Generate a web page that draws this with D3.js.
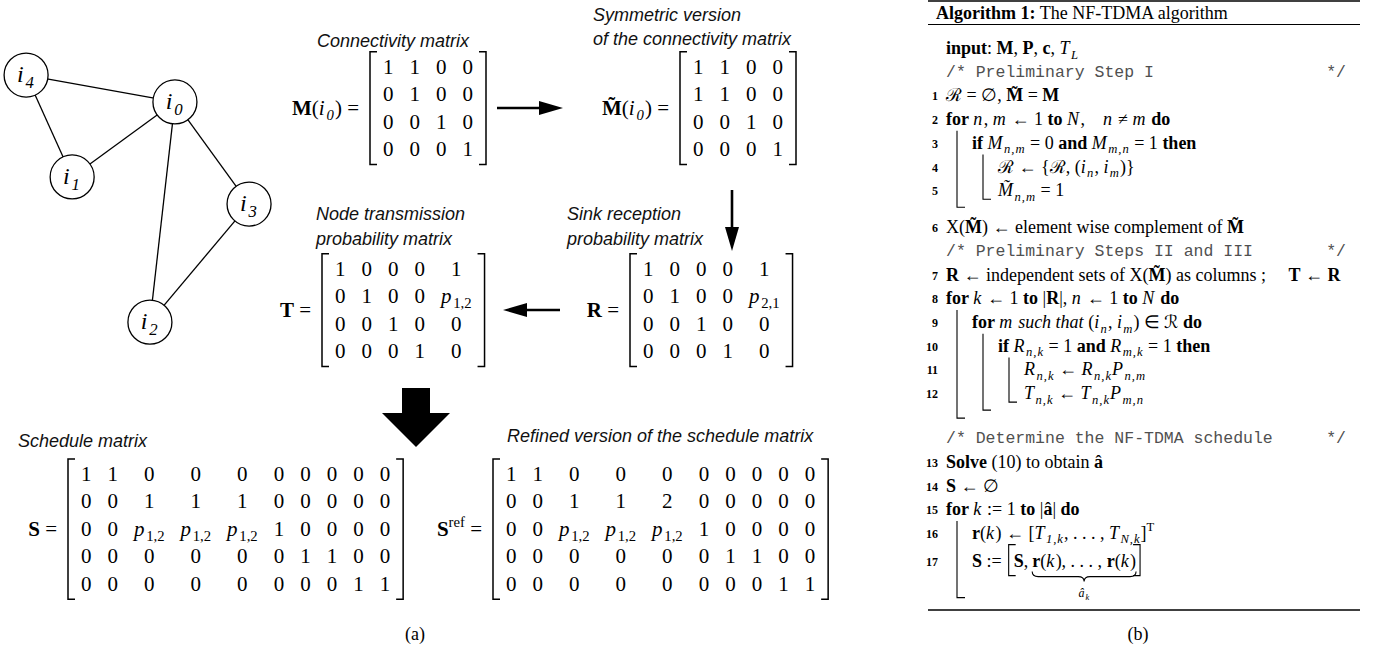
<!DOCTYPE html>
<html lang="en">
<head>
<meta charset="UTF-8">
<title>NF-TDMA schedule construction</title>
<script src="https://d3js.org/d3.v7.min.js"></script>
<style>
  body { margin: 0; background: #fff; }
  svg { display: block; }
  .lbl { font-family: "Liberation Sans", Arial, sans-serif; font-style: italic; font-size: 18px; fill: #111; }
  .math { font-family: "Liberation Serif", "Times New Roman", serif; fill: #000; }
  .mono { font-family: "Liberation Mono", monospace; font-size: 16.5px; fill: #505050; }
</style>
</head>
<body>
<svg width="1380" height="656"></svg>
<script>
// ---- graph (positions in graph units 0..10)
const nodes = [
  {id: "0", gx: 5.67, gy: 2.03},
  {id: "1", gx: 2.30, gy: 4.49},
  {id: "2", gx: 4.85, gy: 9.25},
  {id: "3", gx: 8.10, gy: 5.38},
  {id: "4", gx: 0.79, gy: 1.15}
];
const edges = [["4", "0"], ["4", "1"], ["1", "0"], ["0", "2"], ["0", "3"], ["3", "2"]];

// ---- matrices
const matM = [["1","1","0","0"],["0","1","0","0"],["0","0","1","0"],["0","0","0","1"]];
const matMt = [["1","1","0","0"],["1","1","0","0"],["0","0","1","0"],["0","0","0","1"]];
const matT = [["1","0","0","0","1"],["0","1","0","0","p12"],["0","0","1","0","0"],["0","0","0","1","0"]];
const matR = [["1","0","0","0","1"],["0","1","0","0","p21"],["0","0","1","0","0"],["0","0","0","1","0"]];
const matS = [
  ["1","1","0","0","0","0","0","0","0","0"],
  ["0","0","1","1","1","0","0","0","0","0"],
  ["0","0","p12","p12","p12","1","0","0","0","0"],
  ["0","0","0","0","0","0","1","1","0","0"],
  ["0","0","0","0","0","0","0","0","1","1"]
];
const matSref = [
  ["1","1","0","0","0","0","0","0","0","0"],
  ["0","0","1","1","2","0","0","0","0","0"],
  ["0","0","p12","p12","p12","1","0","0","0","0"],
  ["0","0","0","0","0","0","1","1","0","0"],
  ["0","0","0","0","0","0","0","0","1","1"]
];

// ---- algorithm text
const MT = "M\u0303", SR = "\u211B";
const algTitle = [["Algorithm 1:", "b"], [" The NF-TDMA algorithm", ""]];
const algLines = [
  {num: "", lvl: 0, segs: [["input", "b"], [": ", ""], ["M", "b"], [", ", ""], ["P", "b"], [", ", ""], ["c", "b"], [", ", ""], ["T", "i"], ["L", "is"]]},
  {num: "", lvl: 0, comment: "/* Preliminary Step I"},
  {num: "1", lvl: 0, segs: [[SR, ""], [" = \u2205, ", ""], [MT, "b"], [" = ", ""], ["M", "b"]]},
  {num: "2", lvl: 0, segs: [["for ", "b"], ["n", "i"], [", ", ""], ["m", "i"], [" \u2190 1 ", ""], ["to ", "b"], ["N", "i"], [",\u2003", ""], ["n", "i"], [" \u2260 ", ""], ["m", "i"], [" do", "b"]]},
  {num: "3", lvl: 1, segs: [["if ", "b"], ["M", "i"], ["n,m", "is"], [" = 0 ", ""], ["and ", "b"], ["M", "i"], ["m,n", "is"], [" = 1 ", ""], ["then", "b"]]},
  {num: "4", lvl: 2, segs: [[SR, ""], [" \u2190 {", ""], [SR, ""], [", (", ""], ["i", "i"], ["n", "is"], [", ", ""], ["i", "i"], ["m", "is"], [")}", ""]]},
  {num: "5", lvl: 2, segs: [[MT, "i"], ["n,m", "is"], [" = 1", ""]]},
  {num: "6", lvl: 0, segs: [["X(", ""], [MT, "b"], [") \u2190 element wise complement of ", ""], [MT, "b"]]},
  {num: "", lvl: 0, comment: "/* Preliminary Steps II and III"},
  {num: "7", lvl: 0, segs: [["R", "b"], [" \u2190 independent sets of X(", ""], [MT, "b"], [") as columns ;\u2003 ", ""], ["T", "b"], [" \u2190 ", ""], ["R", "b"]]},
  {num: "8", lvl: 0, segs: [["for ", "b"], ["k", "i"], [" \u2190 1 ", ""], ["to ", "b"], ["|", ""], ["R", "b"], ["|, ", ""], ["n", "i"], [" \u2190 1 ", ""], ["to ", "b"], ["N", "i"], [" do", "b"]]},
  {num: "9", lvl: 1, segs: [["for ", "b"], ["m", "i"], [" such that ", "iw"], ["(", ""], ["i", "i"], ["n", "is"], [", ", ""], ["i", "i"], ["m", "is"], [") \u2208 ", ""], [SR, ""], [" do", "b"]]},
  {num: "10", lvl: 2, segs: [["if ", "b"], ["R", "i"], ["n,k", "is"], [" = 1 ", ""], ["and ", "b"], ["R", "i"], ["m,k", "is"], [" = 1 ", ""], ["then", "b"]]},
  {num: "11", lvl: 3, segs: [["R", "i"], ["n,k", "is"], [" \u2190 ", ""], ["R", "i"], ["n,k", "is"], ["P", "i"], ["n,m", "is"]]},
  {num: "12", lvl: 3, segs: [["T", "i"], ["n,k", "is"], [" \u2190 ", ""], ["T", "i"], ["n,k", "is"], ["P", "i"], ["m,n", "is"]]},
  {num: "", lvl: 0, comment: "/* Determine the NF-TDMA schedule"},
  {num: "13", lvl: 0, segs: [["Solve", "b"], [" (10) to obtain ", ""], ["\u00E2", "b"]]},
  {num: "14", lvl: 0, segs: [["S", "b"], [" \u2190 \u2205", ""]]},
  {num: "15", lvl: 0, segs: [["for ", "b"], ["k", "i"], [" := 1 ", ""], ["to ", "b"], ["|", ""], ["\u00E2", "b"], ["| ", ""], ["do", "b"]]},
  {num: "16", lvl: 1, segs: [["r", "b"], ["(", ""], ["k", "i"], [") \u2190 [", ""], ["T", "i"], ["1,k", "is"], [", . . . , ", ""], ["T", "i"], ["N,k", "is"], ["]", ""], ["T", "p"]]},
  {num: "17", lvl: 1, tall: true, sched: true}
];

const svg = d3.select("svg");

// text with bold / italic / sub / superscript runs
function segText(g, segs, x, y, size, anchor) {
  const t = g.append("text").attr("class", "math")
    .attr("x", x).attr("y", y).attr("font-size", size)
    .attr("text-anchor", anchor || "start");
  let shift = 0;
  segs.forEach(([s, st]) => {
    const sub = st.includes("s"), sup = st.includes("p");
    const ital = st.includes("i"), word = st.includes("w");
    const fs = (sub || sup) ? size * 0.7 : size;
    const target = sub ? size * 0.25 : sup ? -size * 0.42 : 0;
    t.append("tspan").text(s)
      .attr("dy", target - shift)
      .attr("font-size", fs)
      .attr("letter-spacing", ital && !word ? fs * 0.08 : null)
      .attr("font-weight", st.includes("b") ? "bold" : null)
      .attr("font-style", ital ? "italic" : null);
    shift = target;
  });
  return t;
}
const textLen = t => t.node().getComputedTextLength();

function cellSegs(v) {
  if (v === "p12") return [["p", "i"], ["1,2", "s"]];
  if (v === "p21") return [["p", "i"], ["2,1", "s"]];
  return [[v, ""]];
}

function bracketPath(x, top, bot, dir) {
  const tick = 7 * dir;
  return `M${x + tick},${top}L${x},${top}L${x},${bot}L${x + tick},${bot}`;
}

// ---- matrices
const mSize = 21, rowStep = 27.5, colGap = 16, pad = 13;

function drawMatrix(rows, left, cy, label) {
  const g = svg.append("g");
  const nR = rows.length, nC = rows[0].length;
  const y = d3.scalePoint().domain(d3.range(nR))
    .range([cy - (nR - 1) / 2 * rowStep, cy + (nR - 1) / 2 * rowStep]);
  const widths = d3.range(nC).map(c => d3.max(rows, r => {
    const t = segText(g, cellSegs(r[c]), 0, -100, mSize);
    const w = textLen(t); t.remove(); return w;
  }));
  let acc = left + pad;
  const centers = widths.map(w => { const c = acc + w / 2; acc += w + colGap; return c; });
  const right = acc - colGap + pad;
  const x = d3.scaleOrdinal().domain(d3.range(nC)).range(centers);

  rows.forEach((row, r) => row.forEach((v, c) =>
    segText(g, cellSegs(v), x(c), y(r) + mSize * 0.33, mSize, "middle")));

  const top = y(0) - rowStep * 0.55, bot = y(nR - 1) + rowStep * 0.55;
  g.append("path").attr("d", bracketPath(left, top, bot, 1));
  g.append("path").attr("d", bracketPath(right, top, bot, -1));
  g.selectAll("path").attr("fill", "none").attr("stroke", "#000").attr("stroke-width", 1.5);

  segText(g, label, left - 11, cy + mSize * 0.33, mSize, "end");
  return right;
}

const iSub = d => [["i", "i"], [d, "is"]];
drawMatrix(matM, 370, 108, [["M", "b"], ["(", ""], ...iSub("0"), [") =", ""]]);
drawMatrix(matMt, 680, 108, [[MT, "b"], ["(", ""], ...iSub("0"), [") =", ""]]);
drawMatrix(matT, 322, 310, [["T", "b"], [" =", ""]]);
drawMatrix(matR, 630, 310, [["R", "b"], [" =", ""]]);
drawMatrix(matS, 68, 529, [["S", "b"], [" =", ""]]);
drawMatrix(matSref, 493, 529, [["S", "b"], ["ref", "p"], [" =", ""]]);

// ---- captions of the matrices
const labels = [
  {t: "Connectivity matrix", x: 393, y: 40, a: "middle"},
  {t: "Symmetric version", x: 593, y: 14},
  {t: "of the connectivity matrix", x: 593, y: 38},
  {t: "Node transmission", x: 316, y: 213},
  {t: "probability matrix", x: 316, y: 238},
  {t: "Sink reception", x: 567, y: 213},
  {t: "probability matrix", x: 567, y: 238},
  {t: "Schedule matrix", x: 18, y: 440},
  {t: "Refined version of the schedule matrix", x: 507, y: 435}
];
svg.append("g").selectAll("text").data(labels).join("text")
  .attr("class", "lbl")
  .attr("x", d => d.x).attr("y", d => d.y + 6.5)
  .attr("text-anchor", d => d.a || "start")
  .text(d => d.t);

// ---- arrows between matrices
const arrows = svg.append("g").attr("fill", "#000").attr("stroke", "#000");
arrows.append("line").attr("x1", 497).attr("x2", 542).attr("y1", 108).attr("y2", 108).attr("stroke-width", 2.6);
arrows.append("path").attr("d", "M539,101L563,108L539,115Z").attr("stroke", "none");
arrows.append("line").attr("x1", 732).attr("x2", 732).attr("y1", 190).attr("y2", 230).attr("stroke-width", 2.6);
arrows.append("path").attr("d", "M725,227L732,251L739,227Z").attr("stroke", "none");
arrows.append("line").attr("x1", 525).attr("x2", 560).attr("y1", 310).attr("y2", 310).attr("stroke-width", 2.6);
arrows.append("path").attr("d", "M527,303L503,310L527,317Z").attr("stroke", "none");
arrows.append("path").attr("stroke", "none")
  .attr("d", "M402,388L430,388L430,413L450,413L416,447L382,413L402,413Z");

// ---- graph
const gx = d3.scaleLinear().domain([0, 10]).range([2, 307]);
const gy = d3.scaleLinear().domain([0, 10]).range([40, 345]);
const byId = new Map(nodes.map(d => [d.id, d]));
const graph = svg.append("g");
graph.selectAll("line").data(edges).join("line")
  .attr("x1", d => gx(byId.get(d[0]).gx)).attr("y1", d => gy(byId.get(d[0]).gy))
  .attr("x2", d => gx(byId.get(d[1]).gx)).attr("y2", d => gy(byId.get(d[1]).gy))
  .attr("stroke", "#000").attr("stroke-width", 1.3);
graph.selectAll("circle").data(nodes).join("circle")
  .attr("cx", d => gx(d.gx)).attr("cy", d => gy(d.gy)).attr("r", 22)
  .attr("fill", "#fff").attr("stroke", "#000").attr("stroke-width", 1.3);
nodes.forEach(d => segText(graph, iSub(d.id), gx(d.gx), gy(d.gy) + 7, 24, "middle"));

// ---- (a) / (b)
segText(svg, [["(a)", ""]], 415, 640, 18, "middle");
segText(svg, [["(b)", ""]], 1138, 640, 18, "middle");

// ---- algorithm box
const alg = svg.append("g");
const boxL = 928, boxR = 1360, aSize = 18, step = 23.7, textX0 = 946, indent = 26;
const tx = l => textX0 + indent * l;
const rule = (y, w) => alg.append("line").attr("x1", boxL).attr("x2", boxR)
  .attr("y1", y).attr("y2", y).attr("stroke", "#000").attr("stroke-width", w);
rule(1, 1.5);
rule(24.5, 1);
segText(alg, algTitle, 936, 19, aSize);

// blocks: lines that open a deeper level
const blocks = [];
algLines.forEach((d, i) => {
  const nx = algLines[i + 1];
  if (nx && nx.lvl > d.lvl) {
    let e = i + 1;
    while (algLines[e + 1] && algLines[e + 1].lvl >= nx.lvl) e++;
    blocks.push({lvl: nx.lvl, start: i + 1, end: e});
  }
});

const ys = [];
let y = 48, hookMax = 0;
algLines.forEach((d, i) => {
  if (i > 0) y = Math.max(y + step + (d.tall ? 4 : 0), hookMax + 20);
  ys[i] = y;
  const closing = blocks.filter(b => b.end === i).sort((a, b) => b.lvl - a.lvl);
  closing.forEach((b, k) => {
    b.hook = y + 9 + 8 * k + (d.sched ? 28 : 0);
    hookMax = Math.max(hookMax, b.hook);
  });
});

algLines.forEach((d, i) => {
  const base = ys[i] + 6;
  if (d.num) {
    alg.append("text").attr("class", "math").attr("x", 938).attr("y", base - 1)
      .attr("text-anchor", "end").attr("font-size", 12).attr("font-weight", "bold").text(d.num);
  }
  if (d.comment) {
    alg.append("text").attr("class", "mono").attr("x", tx(d.lvl)).attr("y", base - 1).text(d.comment);
    alg.append("text").attr("class", "mono").attr("x", 1346).attr("y", base - 1)
      .attr("text-anchor", "end").text("*/");
  } else if (d.sched) {
    let x = tx(d.lvl);
    x += textLen(segText(alg, [["S", "b"], [" :=", ""]], x, base, aSize)) + 7;
    const top = ys[i] - 16, bot = ys[i] + 15;
    alg.append("path").attr("d", bracketPath(x, top, bot, 1));
    x += 5;
    x += textLen(segText(alg, [["S", "b"], [",", ""]], x, base, aSize)) + 4;
    const u0 = x;
    x += textLen(segText(alg, [["r", "b"], ["(", ""], ["k", "i"], ["), . . . , ", ""], ["r", "b"], ["(", ""], ["k", "i"], [")", ""]], x, base, aSize));
    const u1 = x, um = (u0 + u1) / 2, uy = ys[i] + 11;
    alg.append("path").attr("d", bracketPath(x + 4, top, bot, -1));
    alg.append("path").attr("d",
      `M${u0},${uy}Q${u0},${uy + 5} ${u0 + 6},${uy + 5}L${um - 6},${uy + 5}Q${um},${uy + 5} ${um},${uy + 10}` +
      `Q${um},${uy + 5} ${um + 6},${uy + 5}L${u1 - 6},${uy + 5}Q${u1},${uy + 5} ${u1},${uy}`);
    segText(alg, [["\u00E2", "i"], ["k", "is"]], um, uy + 25, 12, "middle");
  } else {
    segText(alg, d.segs, tx(d.lvl), base, aSize);
  }
});

// block bars with hooks
alg.selectAll("path.bar").data(blocks).join("path").attr("class", "bar")
  .attr("d", b => {
    const bx = tx(b.lvl - 1) + 11;
    return `M${bx},${ys[b.start] - 12}L${bx},${b.hook}L${bx + 8},${b.hook}`;
  });
alg.selectAll("path").attr("fill", "none").attr("stroke", "#000").attr("stroke-width", 1.1);

rule(610, 1.5);
</script>
</body>
</html>
